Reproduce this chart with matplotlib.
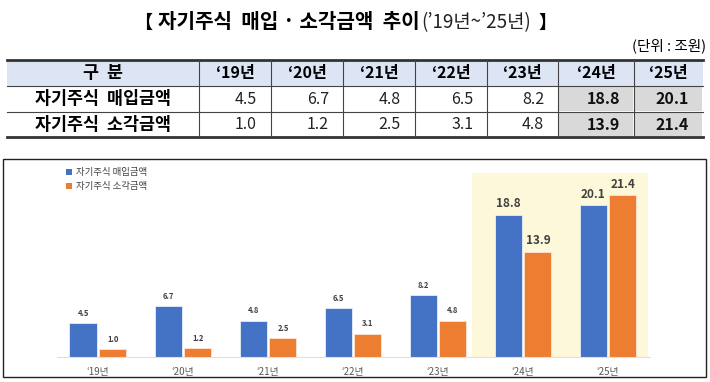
import matplotlib.pyplot as plt
from matplotlib.patches import Rectangle
import numpy as np

plt.rcParams['font.family'] = ['Noto Sans CJK KR', 'DejaVu Sans']

# 데이터
years = ['‘19년', '‘20년', '‘21년', '‘22년', '‘23년', '‘24년', '‘25년']
buyback = [4.5, 6.7, 4.8, 6.5, 8.2, 18.8, 20.1]
cancel = [1.0, 1.2, 2.5, 3.1, 4.8, 13.9, 21.4]
row_names = ['자기주식  매입금액', '자기주식  소각금액']
legend_names = ['자기주식 매입금액', '자기주식 소각금액']

W, H = 710, 382
fig = plt.figure(figsize=(W / 100, H / 100), dpi=100)

# 픽셀 좌표계 배경 축 (제목, 표, 테두리)
bg = fig.add_axes([0, 0, 1, 1])
bg.set_xlim(0, W)
bg.set_ylim(H, 0)
bg.axis('off')

# 제목 (조각별로 이어 붙임)
t_main = bg.text(420, 22, '자기주식  매입 · 소각금액  추이', fontsize=14.5, fontweight='bold',
                 ha='right', va='center')
t_par = bg.text(421, 23, '(’19년~’25년)', fontsize=13.5, ha='left', va='center', color='#222222')
fig.canvas.draw()
r = fig.canvas.get_renderer()
e_main = t_main.get_window_extent(r)
e_par = t_par.get_window_extent(r)
bg.text(e_main.x0 - 6, 22, '【', fontsize=13, fontweight='bold', ha='right', va='center')
bg.text(e_par.x1 + 8, 22, '】', fontsize=13, fontweight='bold', ha='left', va='center')
bg.text(706, 46, '(단위 : 조원)', fontsize=10.5, ha='right', va='center')

# 표
col_edges = [7, 199, 271, 343, 415, 487, 558, 634, 703]
row_edges = [60, 86, 112, 137]
bg.add_patch(Rectangle((col_edges[0], row_edges[0]), col_edges[-1] - col_edges[0],
                       row_edges[1] - row_edges[0], facecolor='#dde4f4', edgecolor='none'))
for ri in range(2):
    for c in (6, 7):
        bg.add_patch(Rectangle((col_edges[c] + 1, row_edges[ri + 1] + 1),
                               col_edges[c + 1] - col_edges[c] - 2,
                               row_edges[ri + 2] - row_edges[ri + 1] - 2,
                               facecolor='#d9d9d9', edgecolor='none'))
bg.plot([col_edges[0], col_edges[-1]], [row_edges[0], row_edges[0]], color='#333333', lw=2)
bg.plot([col_edges[0], col_edges[-1]], [row_edges[-1], row_edges[-1]], color='#333333', lw=2)
for y in row_edges[1:3]:
    bg.plot([col_edges[0], col_edges[-1]], [y, y], color='#444444', lw=0.8)
for x in col_edges[1:-1]:
    bg.plot([x, x], [row_edges[0], row_edges[-1]], color='#444444', lw=0.8)

bg.text((col_edges[0] + col_edges[1]) / 2, (row_edges[0] + row_edges[1]) / 2, '구  분',
        fontsize=12.5, fontweight='bold', ha='center', va='center')
for i, yr in enumerate(years):
    bg.text((col_edges[i + 1] + col_edges[i + 2]) / 2, (row_edges[0] + row_edges[1]) / 2,
            yr, fontsize=11.5, fontweight='bold', ha='center', va='center')
for ri, vals in enumerate([buyback, cancel]):
    yc = (row_edges[ri + 1] + row_edges[ri + 2]) / 2
    bg.text((col_edges[0] + col_edges[1]) / 2, yc, row_names[ri], fontsize=12.5,
            fontweight='bold', ha='center', va='center')
    for i, v in enumerate(vals):
        bold = i >= 5
        bg.text(col_edges[i + 2] - 14, yc, f'{v:.1f}', fontsize=11.5,
                fontweight='bold' if bold else 'normal', ha='right', va='center',
                color='#111111' if bold else '#222222')

# 차트 테두리
bg.add_patch(Rectangle((3, 159), 703, 218, facecolor='none', edgecolor='#222222', lw=1))

# 범례
bg.add_patch(Rectangle((66, 169), 6, 6, facecolor='#4472c4', edgecolor='none'))
bg.add_patch(Rectangle((66, 183), 6, 6, facecolor='#ed7d31', edgecolor='none'))
bg.text(76, 172, legend_names[0], fontsize=6.8, ha='left', va='center', color='#404040')
bg.text(76, 186, legend_names[1], fontsize=6.8, ha='left', va='center', color='#404040')

# 막대 차트
x0, x1, ytop, ybase = 57, 650, 165, 357
ax = fig.add_axes([x0 / W, 1 - ybase / H, (x1 - x0) / W, (ybase - ytop) / H])
ax.patch.set_alpha(0)
x = np.arange(len(years))
ax.set_xlim(-0.482, 6.494)
ax.set_ylim(0, 25.4)

ax.add_patch(Rectangle((4.4, 0), 2.07, 24.4, facecolor='#fdf8d9', edgecolor='none', zorder=0))

bw = 0.318
off = 0.176
ax.bar(x - off, buyback, bw, color='#4472c4', edgecolor='#e8eef8', linewidth=0.6, zorder=2)
ax.bar(x + off, cancel, bw, color='#ed7d31', edgecolor='#fbe5d6', linewidth=0.6, zorder=2)

for i in range(len(years)):
    big = i >= 5
    fs = 8.5 if big else 5.5
    for xx, v in ((x[i] - off, buyback[i]), (x[i] + off, cancel[i])):
        ax.text(xx, v + (0.6 if big else 0.7), f'{v:.1f}', fontsize=fs, fontweight='bold',
                ha='center', va='bottom', color='#404040')

ax.set_xticks(x)
ax.set_xticklabels(years, fontsize=7, color='#595959')
ax.tick_params(axis='x', length=0, pad=7)
ax.set_yticks([])
for s in ['top', 'right', 'left']:
    ax.spines[s].set_visible(False)
ax.spines['bottom'].set_color('#e0e0e0')
ax.spines['bottom'].set_linewidth(0.8)

fig.savefig('out.png', dpi=100)
